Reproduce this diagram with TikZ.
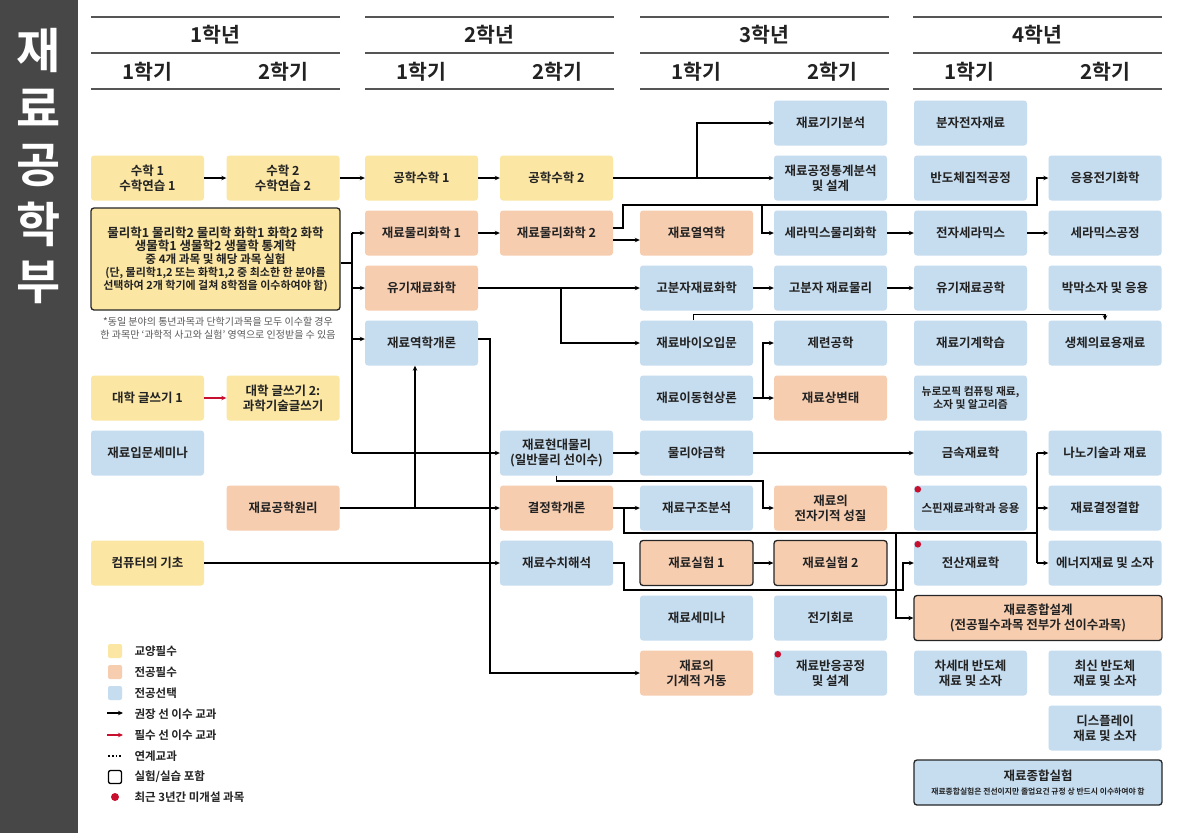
\documentclass[tikz,border=0pt]{standalone}
\usepackage{fontspec}
\setmainfont{Noto Sans CJK KR}[BoldFont={Noto Sans CJK KR Bold}]
\usetikzlibrary{positioning,calc,arrows.meta}
\definecolor{cyel}{HTML}{FBE6A3}
\definecolor{cora}{HTML}{F7CDB0}
\definecolor{cblu}{HTML}{C6DCEF}
\definecolor{cbar}{HTML}{474747}
\definecolor{cdot}{HTML}{C8102E}
\definecolor{chdr}{HTML}{555555}
\definecolor{ctxt}{HTML}{222222}

\tikzset{
  crs/.style={rectangle,rounded corners=3pt,minimum width=113pt,minimum height=45pt,
    align=center,inner sep=1pt,text=ctxt,font=\bfseries\fontsize{12.5}{15}\selectfont},
  gy/.style={crs,fill=cyel},
  mj/.style={crs,fill=cora},
  el/.style={crs,fill=cblu},
  labbox/.style={draw=black!85,line width=1.3pt},
  link/.style={line width=1.2pt,-{Stealth[length=5pt,width=4.5pt]}},
  plain/.style={line width=1.2pt},
  hdr/.style={draw=chdr,line width=1.2pt},
  yrtxt/.style={text=ctxt,font=\bfseries\fontsize{20.5}{22}\selectfont},
  lgt/.style={anchor=west,text=ctxt,font=\bfseries\fontsize{11.5}{13}\selectfont},
  sw/.style={rectangle,rounded corners=2pt,minimum size=14pt,inner sep=0pt},
  rdot/.style={fill=cdot}
}
\newcommand{\scibig}{\fontsize{12.5}{15.5}\selectfont}
\newcommand{\scimid}{\fontsize{11.6}{14}\selectfont}
\newcommand{\scismall}{\fontsize{11}{13}\selectfont}

\begin{document}
\begin{tikzpicture}[x=1pt,y=-1pt]
\useasboundingbox (0,0) rectangle (1179,833);
\fill[white] (0,0) rectangle (1179,833);

% title bar
\fill[cbar] (0,0) rectangle (78,833);
\foreach \ch [count=\i] in {재,료,공,학,부}
  \node[text=white,font=\bfseries\fontsize{48}{48}\selectfont] (t\i) at (39,{-8+58*\i}) {\ch};

% header
\foreach \x/\n in {91/1,365/2,640/3,913/4} {
  \draw[hdr] (\x,17) -- ++(249,0);
  \draw[hdr] (\x,53) -- ++(249,0);
  \draw[hdr] (\x,89) -- ++(249,0);
  \node[yrtxt] (yr\n) at ({\x+124.5},35) {\n{}학년};
  \node[yrtxt] (sa\n) at ({\x+56.5},72) {1학기};
  \node[yrtxt] (sb\n) at ({\x+192},72) {2학기};
}

% 1학년
\node[gy] (m1) at (147.5,178) {수학 1\\수학연습 1};
\node[gy] (m2) at (283,178) {수학 2\\수학연습 2};
\node[gy,labbox,minimum width=249pt,minimum height=102pt,font=\bfseries\scismall] (sci) at (215.5,259)
  {\scibig 물리학1 물리학2 물리학 화학1 화학2 화학\\
   \scibig 생물학1 생물학2 생물학 통계학\\
   \scimid 중 4개 과목 및 해당 과목 실험\\
   \scismall (단, 물리학1,2 또는 화학1,2 중 최소한 한 분야를\\
   \scismall 선택하여 2개 학기에 걸쳐 8학점을 이수하여야 함)};
\node[align=center,text=black!65,font=\fontsize{10}{13}\selectfont] (fn) at (218,328)
  {*동일 분야의 통년과목과 단학기과목을 모두 이수할 경우\\
   한 과목만 ‘과학적 사고와 실험’ 영역으로 인정받을 수 있음};
\node[gy] (wr1) at (147.5,398) {대학 글쓰기 1};
\node[gy] (wr2) at (283,398) {대학 글쓰기 2:\\과학기술글쓰기};
\node[el] (intro) at (147.5,453) {재료입문세미나};
\node[mj] (princ) at (283,508) {재료공학원리};
\node[gy] (comp) at (147.5,563) {컴퓨터의 기초};

% 2학년
\node[gy] (em1) at (421.5,178) {공학수학 1};
\node[gy] (em2) at (556.5,178) {공학수학 2};
\node[mj] (pc1) at (421.5,233) {재료물리화학 1};
\node[mj] (pc2) at (556.5,233) {재료물리화학 2};
\node[mj] (orgch) at (421.5,288) {유기재료화학};
\node[el] (mech) at (421.5,343) {재료역학개론};
\node[el] (modph) at (556.5,453) {재료현대물리\\(일반물리 선이수)};
\node[mj] (cryst) at (556.5,508) {결정학개론};
\node[el] (numan) at (556.5,563) {재료수치해석};

% 3학년
\node[mj] (thermo) at (696.5,233) {재료열역학};
\node[el] (polch) at (696.5,288) {고분자재료화학};
\node[el] (bio) at (696.5,343) {재료바이오입문};
\node[el] (trans) at (696.5,398) {재료이동현상론};
\node[el] (physmet) at (696.5,453) {물리야금학};
\node[el] (struct) at (696.5,508) {재료구조분석};
\node[mj,labbox] (lab1) at (696.5,563) {재료실험 1};
\node[el] (sem) at (696.5,618) {재료세미나};
\node[mj] (mechbeh) at (696.5,673) {재료의\\기계적 거동};
\node[el] (instr) at (830.5,123) {재료기기분석};
\node[el] (stat) at (830.5,178) {재료공정통계분석\\및 설계};
\node[el] (cerpc) at (830.5,233) {세라믹스물리화학};
\node[el] (polph) at (830.5,288) {고분자 재료물리};
\node[el] (smelt) at (830.5,343) {제련공학};
\node[mj] (phtr) at (830.5,398) {재료상변태};
\node[mj] (elmag) at (830.5,508) {재료의\\전자기적 성질};
\node[mj,labbox] (lab2) at (830.5,563) {재료실험 2};
\node[el] (circ) at (830.5,618) {전기회로};
\node[el] (react) at (830.5,673) {재료반응공정\\및 설계};

% 4학년
\node[el] (molel) at (970.5,123) {분자전자재료};
\node[el] (semic) at (970.5,178) {반도체집적공정};
\node[el] (elcer) at (970.5,233) {전자세라믹스};
\node[el] (orgeng) at (970.5,288) {유기재료공학};
\node[el] (ml) at (970.5,343) {재료기계학습};
\node[el,font=\bfseries\fontsize{10.8}{13.5}\selectfont] (neuro) at (970.5,398) {뉴로모픽 컴퓨팅 재료,\\소자 및 알고리즘};
\node[el,font=\bfseries\fontsize{11.5}{14}\selectfont] (spin) at (970.5,508) {스핀재료과학과 응용};
\node[el] (metal) at (970.5,453) {금속재료학};
\node[el] (comput) at (970.5,563) {전산재료학};
\node[mj,labbox,minimum width=248pt] (design) at (1038,618) {재료종합설계\\(전공필수과목 전부가 선이수과목)};
\node[el] (nextsc) at (970.5,673) {차세대 반도체\\재료 및 소자};
\node[el] (elchem) at (1105,178) {응용전기화학};
\node[el] (cerproc) at (1105,233) {세라믹스공정};
\node[el] (thin) at (1105,288) {박막소자 및 응용};
\node[el] (biomed) at (1105,343) {생체의료용재료};
\node[el] (nano) at (1105,453) {나노기술과 재료};
\node[el] (bond) at (1105,508) {재료결정결합};
\node[el] (energy) at (1105,563) {에너지재료 및 소자};
\node[el] (latest) at (1105,673) {최신 반도체\\재료 및 소자};
\node[el] (disp) at (1105,728) {디스플레이\\재료 및 소자};
\node[el,labbox,minimum width=248pt] (complab) at (1038,782.5)
  {재료종합실험\\[-1pt]{\fontsize{7.8}{9}\selectfont 재료종합실험은 전선이지만 졸업요건 규정 상 반드시 이수하여야 함}};

% red dots
\fill[rdot] ([xshift=4pt,yshift=-4pt]react.north west) circle (3.3pt);
\fill[rdot] ([xshift=4pt,yshift=-4pt]spin.north west) circle (3.3pt);
\fill[rdot] ([xshift=4pt,yshift=-4pt]comput.north west) circle (3.3pt);

% junctions
\coordinate (j1) at (697,178);
\coordinate (k1) at (623,205);
\coordinate (k2) at (1037,205);
\coordinate (k3) at (762,205);
\coordinate (k4) at (561,288);
\coordinate (k5) at (763,398);
\coordinate (k6) at (352,233);
\coordinate (k7) at (352,453);
\coordinate (k8) at (415,508);
\coordinate (k9) at (490,339);
\coordinate (k10) at (763,481);
\coordinate (k11) at (624,508);
\coordinate (k12) at (1037,533);
\coordinate (k13) at (896,533);
\coordinate (k14) at (624,563);
\coordinate (k15) at (903,590);

% connectors
\draw[link] (m1) -- (m2);
\draw[link] (m2) -- (em1);
\draw[link] (em1) -- (em2);
\draw[link] (em2) -- (stat);
\draw[link] (j1) |- (instr);
\draw[link] (pc1) -- (pc2);
\draw[link] ([yshift=-7pt]pc2.east) -- ([yshift=-7pt]thermo.west);
\draw[link] ([yshift=5pt]pc2.east) -| (k1) -- (k2) |- (elchem);
\draw[link] (k3) |- (cerpc);
\draw[link] (cerpc) -- (elcer);
\draw[link] (elcer) -- (cerproc);
\draw[link] (orgch) -- (polch);
\draw[link] (k4) |- (bio);
\draw[link] (polch) -- (polph);
\draw[link] (polph) -- (orgeng);
\draw[link] ([xshift=-3pt]bio.north) -- ++(0,-6) -| (biomed.north);
\draw[link] (trans) -- (phtr);
\draw[link] (k5) |- (smelt);
\draw[plain] ([yshift=-4pt]sci.east) -- ++(12,0);
\draw[plain] (k6) -- (k7);
\draw[link] (k6) -- (pc1);
\draw[link] (k6 |- orgch) -- (orgch);
\draw[link] (k6 |- k9) -- (k9 -| mech.west);
\draw[link] (k7) -- (modph);
\draw[link] (princ) -- (cryst);
\draw[link] (k8) -- (k8 |- mech.south);
\draw[link] (comp) -- (numan);
\draw[link] (mech.east |- k9) -- (k9) |- (mechbeh);
\draw[link] (modph) -- (physmet);
\draw[link] (physmet) -- (metal);
\draw[link] (modph.south) |- (k10) |- (elmag);
\draw[link] (cryst) -- (struct);
\draw[plain] (k11) |- (k12);
\draw[plain] (k12 |- nano) -- (k12 |- energy);
\draw[link] (k12 |- nano) -- (nano);
\draw[link] (k12 |- bond) -- (bond);
\draw[link] (k12 |- energy) -- (energy);
\draw[link] (k13) |- (design);
\draw[link] (numan.east) -- (k14) |- (k15) |- (comput);
\draw[link] (lab1) -- (lab2);
\draw[link,draw=cdot] (wr1) -- (wr2);

% legend
\node[sw,fill=cyel] (lg1) at (115,651) {};
\node[sw,fill=cora] (lg2) at (115,672) {};
\node[sw,fill=cblu] (lg3) at (115,693) {};
\coordinate (la1) at (107,713);
\coordinate (la2) at (107,735);
\draw[link,line width=1.5pt] (la1) -- ++(16,0);
\draw[link,line width=1.5pt,draw=cdot] (la2) -- ++(16,0);
\coordinate (la3) at (108,756);
\draw[line width=1.8pt,dotted] (la3) -- ++(14,0);
\node[sw,draw=black,line width=1.3pt,minimum size=13pt] (lg7) at (115,777) {};
\fill[rdot] (115,797) circle (4pt);
\node[lgt] at (131,651) {교양필수};
\node[lgt] at (131,672) {전공필수};
\node[lgt] at (131,693) {전공선택};
\node[lgt] at (131,714) {권장 선 이수 교과};
\node[lgt] at (131,735) {필수 선 이수 교과};
\node[lgt] at (131,756) {연계교과};
\node[lgt] at (131,777) {실험/실습 포함};
\node[lgt] at (131,797) {최근 3년간 미개설 과목};
\end{tikzpicture}
\end{document}
